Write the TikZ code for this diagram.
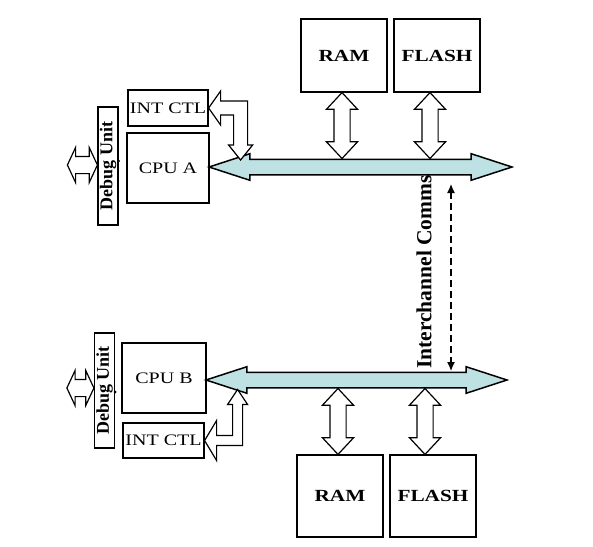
\documentclass[tikz,border=0pt]{standalone}
\usepackage{fontspec}
\setmainfont{Liberation Serif}
\newfontfamily\boxfont{Liberation Serif}[FakeStretch=1.25]
\usetikzlibrary{shapes.arrows,arrows.meta,calc}

\definecolor{buscyan}{RGB}{190,226,228}

\tikzset{
  unit/.style={draw, line width=1.2pt, inner sep=0pt, font=\boxfont\fontsize{16}{16}\selectfont},
  mem/.style={unit, minimum width=86pt, font=\boxfont\bfseries\fontsize{17}{17}\selectfont},
  dbgbox/.style={draw, line width=1.2pt, inner sep=0pt, rotate=90, minimum height=20pt,
    font=\bfseries\fontsize{18}{18}\selectfont},
  bus/.style={double arrow, draw, fill=buscyan, line width=1.5pt, inner xsep=0pt, inner ysep=7pt,
    double arrow head extend=5.5pt, double arrow tip angle=36},
  link/.style={double arrow, draw, fill=white, line width=1.2pt, inner xsep=0pt, inner ysep=7.5pt,
    rotate=90, double arrow head extend=7.5pt, double arrow tip angle=86},
  dbglink/.style={double arrow, draw, fill=white, line width=1.2pt, inner xsep=0pt, inner ysep=8pt,
    double arrow head extend=9pt, double arrow tip angle=130},
  bent/.style={draw, fill=white, line width=1.2pt, line join=miter}
}

\begin{document}
\begin{tikzpicture}[x=1pt,y=-1pt]
  \useasboundingbox (0,0) rectangle (593,546);

  % channel A
  \node[mem, minimum height=73pt] (ramA) at (344,55.5) {RAM};
  \node[mem, minimum height=73pt] (flashA) at (437,55.5) {FLASH};
  \node[unit, minimum width=82pt, minimum height=70pt] (cpuA) at (168,168) {CPU A};
  \node[unit, minimum width=80pt, minimum height=36pt] (intA) at (168,108) {INT CTL};
  \node[dbgbox, minimum width=118pt] (dbgA) at (108,166) {Debug Unit};
  \fill (dbgA.south) ++(0,-5) circle (1.5);
  \node[bus, minimum height=303pt] (busA) at (360.5,167) {};

  % channel B
  \node[mem, minimum height=82pt] (ramB) at (340,496) {RAM};
  \node[mem, minimum height=82pt] (flashB) at (433,496) {FLASH};
  \node[unit, minimum width=84pt, minimum height=70pt] (cpuB) at (164,378) {CPU B};
  \node[unit, minimum width=81pt, minimum height=35pt] (intB) at (163.5,440.5) {INT CTL};
  \node[dbgbox, minimum width=115pt] (dbgB) at (104.5,390.5) {Debug Unit};
  \fill (dbgB.south) ++(0,1.5) circle (1.5);
  \node[bus, minimum height=301pt] (busB) at (356.5,380) {};

  % memory links
  \path let \p1=($(ramA.south)+(-2,0)$), \p2=(\p1 |- busA.north) in
    node[link, minimum height={abs(\y1-\y2)}] (ramLinkA) at ($(\p1)!0.5!(\p2)$) {};
  \path let \p1=($(flashA.south)+(-7,0)$), \p2=(\p1 |- busA.north) in
    node[link, minimum height={abs(\y1-\y2)}] (flashLinkA) at ($(\p1)!0.5!(\p2)$) {};
  \path let \p1=($(ramB.north)+(-2,0)$), \p2=(\p1 |- busB.south) in
    node[link, minimum height={abs(\y1-\y2)}] (ramLinkB) at ($(\p1)!0.5!(\p2)$) {};
  \path let \p1=($(flashB.north)+(-8,0)$), \p2=(\p1 |- busB.south) in
    node[link, minimum height={abs(\y1-\y2)}] (flashLinkB) at ($(\p1)!0.5!(\p2)$) {};

  % debug links
  \node[dbglink, minimum height=30pt] (dbgLinkA) at ($(dbgA.north)+(-15,-1)$) {};
  \node[dbglink, minimum height=27pt] (dbgLinkB) at ($(dbgB.north)+(-13.5,-2.5)$) {};

  % interrupt links
  \draw[bent] (intA.east) -- ++(12,-17) -- ++(0,10) -- ++(27,0) -- ++(0,44) -- ++(5,0)
    -- ++(-12,15) -- ++(-12,-15) -- ++(5,0) -- ++(0,-30) -- ++(-13,0) -- ++(0,10) -- cycle;
  \draw[bent] (intB.east) -- ++(12,-20) -- ++(0,15) -- ++(16,0) -- ++(0,-31) -- ++(-5,0)
    -- ++(10,-15) -- ++(10,15) -- ++(-5,0) -- ++(0,41) -- ++(-26,0) -- ++(0,15) -- cycle;

  % interchannel comms
  \coordinate (icTop) at (451,184);
  \coordinate (icBot) at (451,371);
  \draw[line width=1.3pt, dash pattern=on 7pt off 4pt, {Latex[length=9pt,width=8pt]}-{Latex[length=9pt,width=8pt]}]
    (icTop) -- (icBot);
  \node[rotate=90, font=\bfseries\fontsize{21.5}{22}\selectfont] (icLabel) at (424,272) {Interchannel Comms};
\end{tikzpicture}
\end{document}
